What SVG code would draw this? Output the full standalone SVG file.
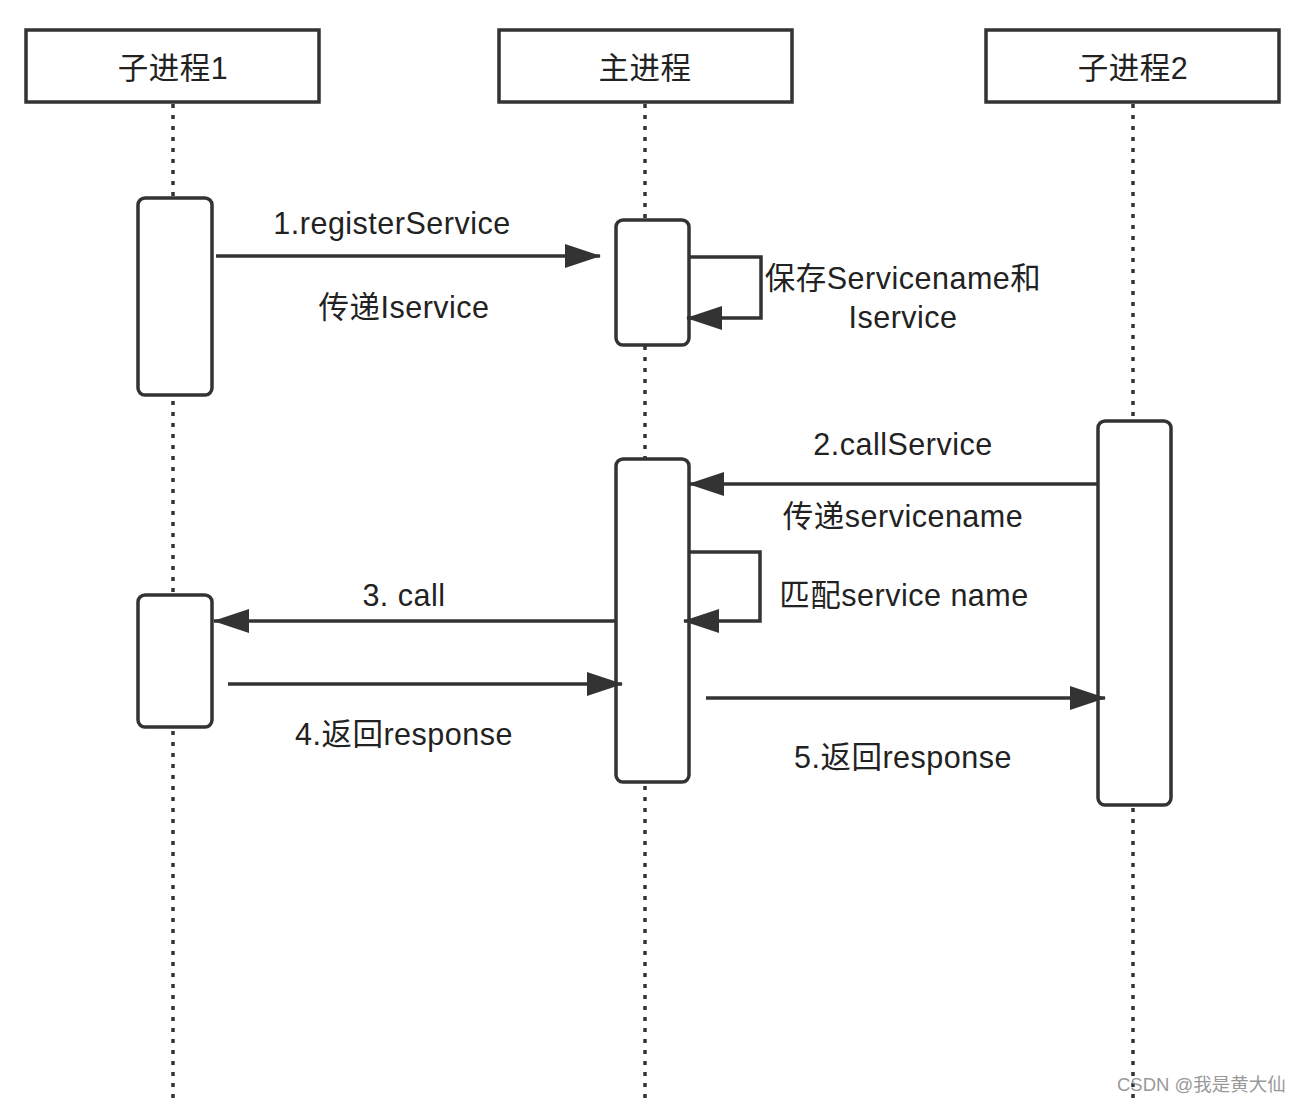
<svg xmlns="http://www.w3.org/2000/svg" width="1302" height="1104" viewBox="0 0 1302 1104">
<style>
.hdr{fill:#fff;stroke:#333;stroke-width:3.5}
.act{fill:#fff;stroke:#333;stroke-width:3.5}
.life{stroke:#333;stroke-width:3.5;stroke-dasharray:4 7;fill:none}
.msg{stroke:#333;stroke-width:3.5;fill:none}
text{font-family:"Liberation Sans","Noto Sans CJK SC",sans-serif;font-size:30.5px;letter-spacing:0.5px;fill:#222;text-anchor:middle}
.wm{font-size:18.5px;letter-spacing:0;fill:#999;text-anchor:start}
</style>
<defs>
<marker id="ah" markerUnits="userSpaceOnUse" markerWidth="36" markerHeight="26" viewBox="0 0 36 26" refX="35" refY="13" orient="auto">
<path d="M0,1 L36,13 L0,25 z" fill="#333"/>
</marker>
</defs>
<rect width="1302" height="1104" fill="#fff"/>
<g id="lifelines">
<line class="life" x1="173" y1="104" x2="173" y2="1104"/>
<line class="life" x1="645" y1="104" x2="645" y2="1104"/>
<line class="life" x1="1133" y1="104" x2="1133" y2="1104"/>
</g>
<g id="p1">
<rect class="hdr" x="26" y="30" width="293" height="72"/>
<text x="173" y="79">子进程1</text>
</g>
<g id="main">
<rect class="hdr" x="499" y="30" width="293" height="72"/>
<text x="645" y="79">主进程</text>
</g>
<g id="p2">
<rect class="hdr" x="986" y="30" width="293" height="72"/>
<text x="1133" y="79">子进程2</text>
</g>
<g id="p1-act1"><rect class="act" x="138" y="198" width="74" height="197" rx="7"/></g>
<g id="main-act1"><rect class="act" x="616" y="220" width="73" height="125" rx="7"/></g>
<g id="main-act2"><rect class="act" x="616" y="459" width="73" height="323" rx="7"/></g>
<g id="p1-act2"><rect class="act" x="138" y="595" width="74" height="132" rx="7"/></g>
<g id="p2-act"><rect class="act" x="1098" y="421" width="73" height="384" rx="7"/></g>
<g id="connectors">
<line class="msg" x1="216" y1="256" x2="600" y2="256" marker-end="url(#ah)"/>
<polyline class="msg" points="689,257 761,257 761,318 687,318" marker-end="url(#ah)"/>
<line class="msg" x1="1098" y1="484" x2="689" y2="484" marker-end="url(#ah)"/>
<polyline class="msg" points="689,552 760,552 760,621 684,621" marker-end="url(#ah)"/>
<line class="msg" x1="616" y1="621" x2="214" y2="621" marker-end="url(#ah)"/>
<line class="msg" x1="228" y1="684" x2="622" y2="684" marker-end="url(#ah)"/>
<line class="msg" x1="706" y1="698" x2="1105" y2="698" marker-end="url(#ah)"/>
</g>
<g id="labels">
<text x="392" y="234">1.registerService</text>
<text x="404" y="318">传递Iservice</text>
<text x="903" y="289">保存Servicename和</text>
<text x="903" y="328">Iservice</text>
<text x="903" y="455">2.callService</text>
<text x="903" y="527">传递servicename</text>
<text x="904" y="606">匹配service name</text>
<text x="404" y="606">3. call</text>
<text x="404" y="745">4.返回response</text>
<text x="903" y="768">5.返回response</text>
<text class="wm" x="1117" y="1091">CSDN @我是黄大仙</text>
</g>
</svg>
